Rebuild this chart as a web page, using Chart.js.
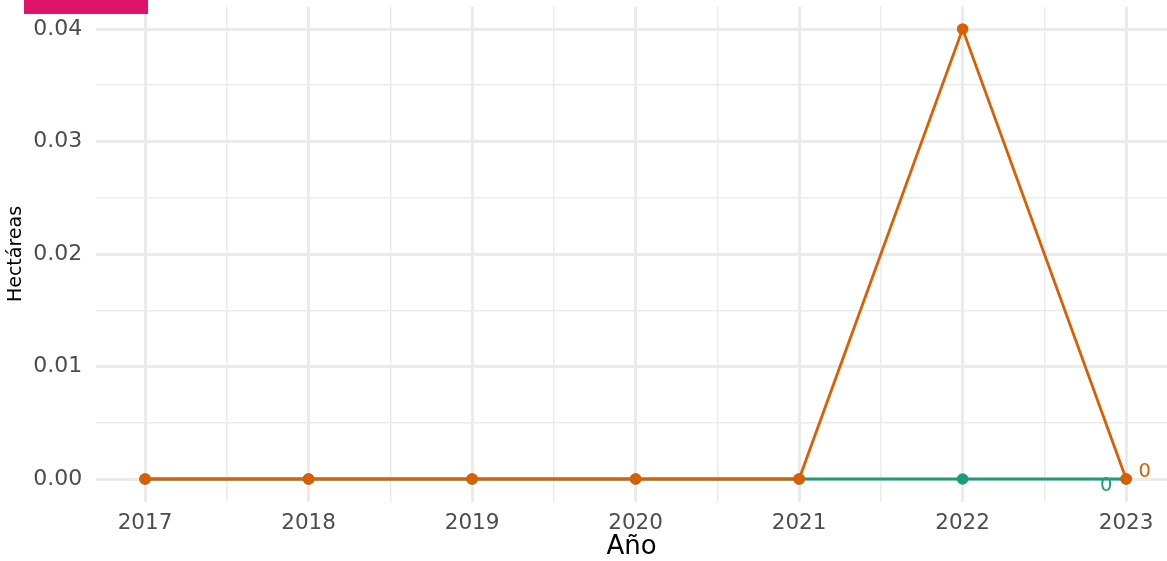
<!DOCTYPE html>
<html>
<head>
<meta charset="utf-8">
<script src="https://cdn.jsdelivr.net/npm/chart.js@4"></script>
<style>
  html, body { margin: 0; padding: 0; background: #fff; overflow: hidden; }
  #wrap { width: 1167px; height: 561px; position: relative; }
</style>
</head>
<body>
<div id="wrap"><canvas id="chart"></canvas></div>
<script>
  // años y series (hectáreas)
  var years = [2017, 2018, 2019, 2020, 2021, 2022, 2023];
  var serieNaranja = [0, 0, 0, 0, 0, 0.04, 0];
  var serieVerde = [0, 0, 0, 0, 0, 0, 0];
  var etiquetasFinales = ['0', '0'];

  var colNaranja = '#d95f02';
  var colVerde = '#1b9e77';
  var gridCol = '#ebebeb';
  var fontFam = "'DejaVu Sans', Verdana, sans-serif";

  function toPoints(vals) {
    return years.map(function (y, i) { return { x: y, y: vals[i] }; });
  }

  function isMajor(v, step) {
    return Math.abs(v / step - Math.round(v / step)) < 1e-6;
  }

  // recuadro rosa recortado arriba y etiquetas "0" al final de cada serie
  var decoPlugin = {
    id: 'deco',
    afterDatasetsDraw: function (chart) {
      var ctx = chart.ctx;
      var xs = chart.scales.x, ys = chart.scales.y;
      var last = years.length - 1;
      ctx.save();
      ctx.fillStyle = '#e0136b';
      ctx.fillRect(24, 0, 124, 14);
      ctx.font = '19.5px ' + fontFam;
      ctx.textBaseline = 'middle';
      ctx.textAlign = 'center';
      var px = xs.getPixelForValue(years[last]);
      ctx.fillStyle = colVerde;
      ctx.fillText(etiquetasFinales[0], px - 20, ys.getPixelForValue(serieVerde[last]) + 7);
      ctx.fillStyle = colNaranja;
      ctx.fillText(etiquetasFinales[1], px + 18.5, ys.getPixelForValue(serieNaranja[last]) - 7.5);
      ctx.restore();
    }
  };

  new Chart(document.getElementById('chart'), {
    type: 'line',
    data: {
      datasets: [
        {
          data: toPoints(serieNaranja),
          borderColor: colNaranja,
          backgroundColor: colNaranja,
          borderWidth: 2.8,
          pointRadius: 5.8,
          pointBorderWidth: 0,
          tension: 0
        },
        {
          data: toPoints(serieVerde),
          borderColor: colVerde,
          backgroundColor: colVerde,
          borderWidth: 2.8,
          pointRadius: 5.8,
          pointBorderWidth: 0,
          tension: 0
        }
      ]
    },
    options: {
      responsive: true,
      maintainAspectRatio: false,
      animation: false,
      layout: { autoPadding: false, padding: { top: 6.5, left: 0, right: 0, bottom: 0 } },
      plugins: { legend: { display: false }, tooltip: { enabled: false } },
      scales: {
        x: {
          type: 'linear',
          min: 2016.7,
          max: 2023.25,
          afterFit: function (s) {
            s.height = 59.5;
            s.paddingLeft = 0;
            s.paddingRight = 0;
          },
          border: { display: false },
          grid: {
            color: gridCol,
            drawTicks: false,
            lineWidth: function (c) { return isMajor(c.tick.value, 1) ? 3 : 1.5; }
          },
          ticks: {
            stepSize: 0.5,
            includeBounds: false,
            autoSkip: false,
            maxRotation: 0,
            padding: 9,
            color: '#4d4d4d',
            font: { family: fontFam, size: 21.5 },
            callback: function (v) { return isMajor(v, 1) ? String(v) : ''; }
          },
          title: {
            display: true,
            text: 'Año',
            color: '#000',
            padding: { top: 0, bottom: 1 },
            font: { family: fontFam, size: 26, lineHeight: 1 }
          }
        },
        y: {
          min: -0.002,
          max: 0.042,
          afterFit: function (s) {
            s.width = 96;
            s.paddingTop = 0;
            s.paddingBottom = 0;
          },
          border: { display: false },
          grid: {
            color: gridCol,
            drawTicks: false,
            lineWidth: function (c) { return isMajor(c.tick.value, 0.01) ? 3 : 1.5; }
          },
          ticks: {
            stepSize: 0.005,
            includeBounds: false,
            autoSkip: false,
            padding: 13.7,
            color: '#4d4d4d',
            font: { family: fontFam, size: 22 },
            callback: function (v) { return isMajor(v, 0.01) ? v.toFixed(2) : ''; }
          },
          title: {
            display: true,
            text: 'Hectáreas',
            color: '#000',
            padding: { top: 5, bottom: 0 },
            font: { family: fontFam, size: 19 }
          }
        }
      }
    },
    plugins: [decoPlugin]
  });
</script>
</body>
</html>
